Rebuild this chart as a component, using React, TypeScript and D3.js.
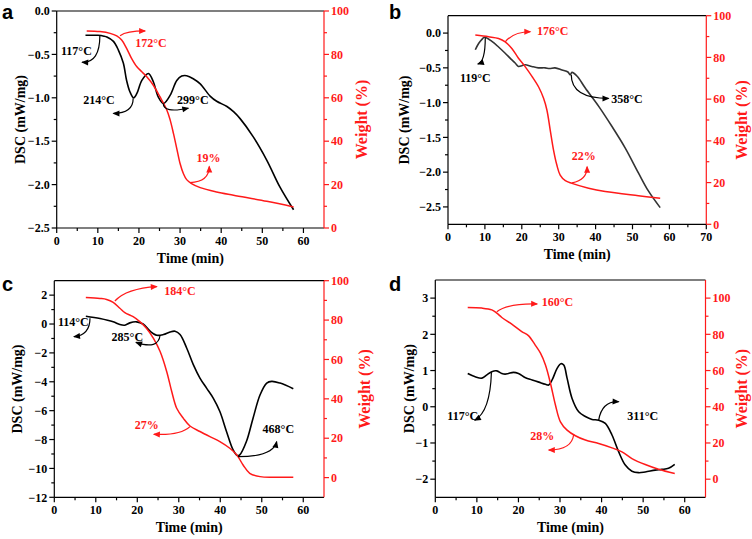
import React from 'react';
import * as d3 from 'd3';

type Pt = [number, number];
type Ann = { axis: 'L' | 'R'; color: 'k' | 'r'; p0: Pt; c: Pt; p1: Pt; text: string; at: Pt };

// ---------------- data (time in min, DSC in mW/mg, weight in %) ----------------
const dscA: Pt[] = [[7, -0.28], [10, -0.28], [11.5, -0.29], [12.2, -0.3], [13.8, -0.35], [15, -0.45], [16.2, -0.6], [17, -0.8], [17.8, -0.93], [18.7, -1.0], [19.5, -0.95], [20.7, -0.8], [22.3, -0.72], [23.5, -0.815], [24.7, -0.99], [26, -1.065], [27.6, -0.97], [29.2, -0.8], [30.4, -0.75], [31.6, -0.746], [33.2, -0.78], [34.9, -0.84], [37.3, -0.98], [38.9, -1.04], [41.4, -1.1], [43, -1.16], [44.6, -1.24], [47.8, -1.45], [51.1, -1.72], [54.3, -2.03], [57.6, -2.29]];
const wtA: Pt[] = [[7.3, 90.8], [10.5, 90.5], [13, 89.7], [14.6, 88.5], [15.8, 86.6], [17, 82.8], [18.2, 78.2], [19.5, 74.3], [20.7, 72], [21.9, 69.7], [23.5, 65.8], [25.1, 60.5], [26.8, 54.3], [27.6, 49.7], [28.4, 43.5], [29.2, 36.6], [30, 29.7], [30.8, 25.1], [31.6, 22.3], [32.8, 20.5], [34.9, 18.6], [38.9, 16.6], [43, 15.1], [51.1, 12.3], [57.6, 9.7]];

const dscB: Pt[] = [[7.4, -0.24], [8.3, -0.15], [9.2, -0.09], [9.9, -0.06], [11.9, -0.12], [13.7, -0.2], [15.5, -0.29], [17, -0.37], [18.2, -0.43], [19.1, -0.48], [20, -0.47], [20.9, -0.455], [22.7, -0.48], [24.5, -0.5], [26.3, -0.5], [27.5, -0.51], [29, -0.5], [30.9, -0.53], [32.5, -0.56], [33.1, -0.6], [33.6, -0.565], [35, -0.62], [37.2, -0.79], [40.8, -1.05], [44.4, -1.34], [48, -1.65], [51.6, -2.01], [54.3, -2.27], [57.5, -2.51]];
const wtB: Pt[] = [[7.4, 90.7], [11, 89.9], [13.7, 89.1], [15.5, 87.5], [17.3, 84.3], [19.1, 79.6], [20.9, 75.6], [22.8, 70.8], [24.6, 65.7], [25.9, 60.4], [26.8, 54.8], [27.7, 45.2], [28.6, 35.6], [29.5, 28.4], [30.4, 23.6], [31.8, 20.9], [33.6, 19.6], [38.1, 17.3], [42.6, 15.7], [51.6, 13.7], [57.5, 12.5]];

const dscC: Pt[] = [[7.6, 0.54], [11, 0.38], [14.2, 0.15], [15.8, -0.04], [17, -0.08], [18.2, 0.08], [19.8, 0.15], [21.4, 0.0], [23.1, -0.5], [24.7, -0.78], [26.3, -0.73], [27.9, -0.55], [29.1, -0.5], [30.3, -0.73], [31.9, -1.66], [33.5, -2.81], [35.1, -3.74], [36.7, -4.44], [38.3, -5.13], [39.9, -6.06], [41.5, -7.44], [43.1, -8.72], [44.1, -9.11], [44.7, -9.06], [46.3, -8.14], [47.9, -6.52], [49.6, -4.9], [51.2, -4.09], [52.4, -3.97], [54.4, -4.09], [57.6, -4.48]];
const wtC: Pt[] = [[7.6, 91.5], [11, 91], [12.6, 90.5], [14.2, 89], [15.8, 86], [17, 83.8], [19, 81.7], [20.6, 79.2], [22.2, 75.8], [23.9, 70.7], [25.5, 64], [27.1, 53.8], [28.3, 43.7], [29.5, 35.2], [31.1, 30.1], [32.7, 26.2], [35.1, 23.4], [37.5, 20.8], [39.9, 18.3], [42.3, 14.9], [44, 11.5], [45.5, 6.4], [47.1, 2.2], [49.6, 0.5], [52.8, 0.2], [57.6, 0.2]];

const dscD: Pt[] = [[7.8, 0.92], [9.6, 0.83], [11.2, 0.79], [12.4, 0.88], [13.6, 0.97], [14.8, 0.99], [16, 0.92], [16.8, 0.9], [17.6, 0.92], [18.8, 0.95], [20, 0.92], [21.7, 0.8], [23.3, 0.74], [24.9, 0.68], [26.5, 0.62], [27.3, 0.6], [28.1, 0.74], [29.3, 1.06], [30.2, 1.19], [30.9, 1.15], [31.7, 0.79], [32.9, 0.23], [34.5, -0.14], [36.1, -0.27], [37.7, -0.35], [39.3, -0.37], [40.9, -0.46], [42.5, -0.78], [44.1, -1.24], [45.7, -1.61], [47.3, -1.78], [48.9, -1.82], [50.5, -1.8], [52.9, -1.75], [54.5, -1.73], [56.1, -1.7], [57.6, -1.59]];
const wtD: Pt[] = [[7.8, 94.8], [11.2, 94.5], [13.6, 93.5], [14.8, 91.7], [16, 89.3], [18.4, 85.6], [20.8, 81.5], [22.4, 79.3], [24, 74.2], [25.3, 69.6], [26.5, 63.1], [27.7, 53], [28.9, 41], [30.1, 31.7], [31.7, 27.1], [33.7, 24], [36.1, 21.6], [39.3, 19.7], [42.5, 17.3], [44.9, 15.1], [47.3, 11.4], [50.5, 8.1], [53.7, 5.5], [57.6, 3.1]];

// annotations: curved arrow (start, control, end) and label position, in data units
const annA: Ann[] = [
  { axis: 'L', color: 'k', p0: [10.5, -0.28], c: [10.5, -0.6], p1: [6.2, -0.59], text: '117°C', at: [4.8, -0.507] },
  { axis: 'R', color: 'r', p0: [15.4, 88.6], c: [17, 90.8], p1: [21.5, 90.8], text: '172°C', at: [22.9, 83.6] },
  { axis: 'L', color: 'k', p0: [18.6, -1.006], c: [18.6, -1.18], p1: [13.8, -1.18], text: '214°C', at: [10.3, -1.066] },
  { axis: 'L', color: 'k', p0: [25.9, -1.063], c: [25.9, -1.18], p1: [32, -1.12], text: '299°C', at: [33.1, -1.066] },
  { axis: 'R', color: 'r', p0: [32.4, 20.9], c: [37.1, 21.3], p1: [37.1, 28.3], text: '19%', at: [36.9, 30.4] },
];
const annB: Ann[] = [
  { axis: 'L', color: 'k', p0: [10.1, -0.066], c: [10.1, -0.41], p1: [8.1, -0.445], text: '119°C', at: [7.4, -0.7] },
  { axis: 'R', color: 'r', p0: [15.5, 87.5], c: [17.8, 92.3], p1: [22.3, 92.3], text: '176°C', at: [28.4, 90.7] },
  { axis: 'L', color: 'k', p0: [33.4, -0.6], c: [33.4, -0.94], p1: [43.5, -0.94], text: '358°C', at: [48.5, -1.01] },
  { axis: 'R', color: 'r', p0: [33.6, 19.9], c: [37.7, 21.2], p1: [37.7, 27.6], text: '22%', at: [36.8, 31.0] },
];
const annC: Ann[] = [
  { axis: 'L', color: 'k', p0: [8.6, 0.4], c: [8.6, -0.76], p1: [4.75, -0.88], text: '114°C', at: [4.6, -0.17] },
  { axis: 'R', color: 'r', p0: [14.6, 89.7], c: [17.4, 96.1], p1: [24.7, 97], text: '184°C', at: [30.3, 92.5] },
  { axis: 'L', color: 'k', p0: [25.5, -0.76], c: [25.1, -1.8], p1: [19.7, -1.27], text: '285°C', at: [17.6, -1.18] },
  { axis: 'R', color: 'r', p0: [32.7, 25.9], c: [30.3, 21.3], p1: [24.0, 22.0], text: '27%', at: [22.3, 24.9] },
  { axis: 'L', color: 'k', p0: [44.3, -9.19], c: [52.8, -9.19], p1: [53.6, -8.15], text: '468°C', at: [54, -7.58] },
];
const annD: Ann[] = [
  { axis: 'L', color: 'k', p0: [13.5, 0.95], c: [13.2, -0.14], p1: [9.5, -0.37], text: '117°C', at: [6.6, -0.37] },
  { axis: 'R', color: 'r', p0: [14.8, 92.5], c: [17.3, 97.1], p1: [24.5, 96.75], text: '160°C', at: [29.4, 95.6] },
  { axis: 'L', color: 'k', p0: [39.3, -0.37], c: [40.1, 0.16], p1: [44.1, 0.14], text: '311°C', at: [49.9, -0.37] },
  { axis: 'R', color: 'r', p0: [33.3, 24.8], c: [32.9, 16.1], p1: [27.3, 16.1], text: '28%', at: [25.7, 21.7] },
];

// ticks
const xTicks60 = [0, 10, 20, 30, 40, 50, 60];
const xMinor60 = [5, 15, 25, 35, 45, 55];
const xTicks70 = [0, 10, 20, 30, 40, 50, 60, 70];
const xMinor70 = [5, 15, 25, 35, 45, 55, 65];
const dscTicksAB = [0, -0.5, -1, -1.5, -2, -2.5];
const dscMinorAB = [-0.25, -0.75, -1.25, -1.75, -2.25];
const dscTicksC = [2, 0, -2, -4, -6, -8, -10, -12];
const dscMinorC = [1, -1, -3, -5, -7, -9, -11];
const dscTicksD = [3, 2, 1, 0, -1, -2];
const dscMinorD = [2.5, 1.5, 0.5, -0.5, -1.5];
const wtTicks = [0, 20, 40, 60, 80, 100];
const wtMinor = [10, 30, 50, 70, 90];

// ---------------- layout / style ----------------
const SERIF = '"Liberation Serif", "Times New Roman", serif';
const SANS = '"Liberation Sans", Arial, sans-serif';
const RED = '#ff1a1a';

interface Cfg {
  letter: string; box: { l: number; r: number; t: number; b: number };
  xDom: [number, number]; yLDom: [number, number]; yRDom: [number, number];
  xT: number[]; xM: number[]; lT: number[]; lM: number[]; lFmt: (v: number) => string;
  dsc: Pt[]; wt: Pt[]; ann: Ann[]; dscColor: string;
  dscTitleX: number; wtTitleX: number; letterPos: [number, number];
}

const f1 = d3.format('.1f');
const f0 = d3.format('d');

const panels: Cfg[] = [
  { letter: 'a', box: { l: 56.7, r: 324, t: 11, b: 228 }, xDom: [0, 65], yLDom: [-2.5, 0], yRDom: [0, 100], xT: xTicks60, xM: xMinor60, lT: dscTicksAB, lM: dscMinorAB, lFmt: f1, dsc: dscA, wt: wtA, ann: annA, dscColor: '#000', dscTitleX: 20, wtTitleX: 361, letterPos: [2, 19] },
  { letter: 'b', box: { l: 448, r: 706.3, t: 15.7, b: 224.3 }, xDom: [0, 70], yLDom: [-2.75, 0.25], yRDom: [0, 100], xT: xTicks70, xM: xMinor70, lT: dscTicksAB, lM: dscMinorAB, lFmt: f1, dsc: dscB, wt: wtB, ann: annB, dscColor: '#333', dscTitleX: 404, wtTitleX: 741, letterPos: [389, 19] },
  { letter: 'c', box: { l: 54.3, r: 324, t: 280.7, b: 497.3 }, xDom: [0, 65], yLDom: [-12, 3], yRDom: [-10, 100], xT: xTicks60, xM: xMinor60, lT: dscTicksC, lM: dscMinorC, lFmt: f0, dsc: dscC, wt: wtC, ann: annC, dscColor: '#000', dscTitleX: 17.5, wtTitleX: 364, letterPos: [2, 291] },
  { letter: 'd', box: { l: 435.3, r: 705.5, t: 280, b: 497.3 }, xDom: [0, 65], yLDom: [-2.5, 3.5], yRDom: [-10, 110], xT: xTicks60, xM: xMinor60, lT: dscTicksD, lM: dscMinorD, lFmt: f0, dsc: dscD, wt: wtD, ann: annD, dscColor: '#000', dscTitleX: 409.5, wtTitleX: 741, letterPos: [389, 291] },
];

function Panel({ cfg }: { cfg: Cfg }) {
  const { box } = cfg;
  const x = d3.scaleLinear().domain(cfg.xDom).range([box.l, box.r]);
  const yL = d3.scaleLinear().domain(cfg.yLDom).range([box.b, box.t]);
  const yR = d3.scaleLinear().domain(cfg.yRDom).range([box.b, box.t]);
  const curve = d3.curveCatmullRom.alpha(0.5);
  const lineL = d3.line<Pt>().x(d => x(d[0])).y(d => yL(d[1])).curve(curve);
  const lineR = d3.line<Pt>().x(d => x(d[0])).y(d => yR(d[1])).curve(curve);
  const MAJ = 5, MIN = 3;
  const cx = (box.l + box.r) / 2;
  const cy = (box.t + box.b) / 2;

  return (
    <g>
      <text x={cfg.letterPos[0]} y={cfg.letterPos[1]} fontFamily={SANS} fontWeight="bold" fontSize={20}>{cfg.letter}</text>
      {/* curves */}
      <path d={lineL(cfg.dsc) || ''} fill="none" stroke={cfg.dscColor} strokeWidth={1.6} />
      <path d={lineR(cfg.wt) || ''} fill="none" stroke={RED} strokeWidth={1.5} />
      {/* annotations */}
      {cfg.ann.map((a, i) => {
        const sy = a.axis === 'L' ? yL : yR;
        const col = a.color === 'k' ? '#000' : RED;
        const x0 = x(a.p0[0]), y0 = sy(a.p0[1]);
        const qx = x(a.c[0]), qy = sy(a.c[1]);
        const x1 = x(a.p1[0]), y1 = sy(a.p1[1]);
        let dx = x1 - qx, dy = y1 - qy;
        const len = Math.hypot(dx, dy) || 1;
        dx /= len; dy /= len;
        const hl = 6, hw = 3;
        const bx = x1 - dx * hl, by = y1 - dy * hl;
        const head = `M${x1 + dx},${y1 + dy}L${bx - dy * hw},${by + dx * hw}L${bx + dy * hw},${by - dx * hw}Z`;
        return (
          <g key={i}>
            <path d={`M${x0},${y0}Q${qx},${qy} ${x1},${y1}`} fill="none" stroke={col} strokeWidth={1.2} />
            <path d={head} fill={col} stroke="none" />
            <text x={x(a.at[0])} y={sy(a.at[1])} textAnchor="middle" fontFamily={SERIF} fontWeight="bold" fontSize={12} fill={col}>{a.text}</text>
          </g>
        );
      })}
      {/* frame */}
      <line x1={box.l} x2={box.r} y1={box.t} y2={box.t} stroke="#000" strokeWidth={1.2} />
      <line x1={box.l} x2={box.r} y1={box.b} y2={box.b} stroke="#000" strokeWidth={1.2} />
      <line x1={box.l} x2={box.l} y1={box.t} y2={box.b} stroke="#000" strokeWidth={1.2} />
      <line x1={box.r} x2={box.r} y1={box.t} y2={box.b} stroke={RED} strokeWidth={1.2} />
      {/* x axis */}
      {cfg.xT.map(t => (
        <g key={'xt' + t}>
          <line x1={x(t)} x2={x(t)} y1={box.b} y2={box.b + MAJ} stroke="#000" strokeWidth={1.2} />
          <text x={x(t)} y={box.b + 17} textAnchor="middle" fontFamily={SERIF} fontWeight="bold" fontSize={12}>{f0(t)}</text>
        </g>
      ))}
      {cfg.xM.map(t => <line key={'xm' + t} x1={x(t)} x2={x(t)} y1={box.b} y2={box.b + MIN} stroke="#000" strokeWidth={1.2} />)}
      <text x={cx} y={box.b + 35} textAnchor="middle" fontFamily={SERIF} fontWeight="bold" fontSize={14}>Time (min)</text>
      {/* left axis */}
      {cfg.lT.map(v => (
        <g key={'lt' + v}>
          <line x1={box.l - MAJ} x2={box.l} y1={yL(v)} y2={yL(v)} stroke="#000" strokeWidth={1.2} />
          <text x={box.l - 7} y={yL(v)} dy="0.35em" textAnchor="end" fontFamily={SERIF} fontWeight="bold" fontSize={12}>{cfg.lFmt(v)}</text>
        </g>
      ))}
      {cfg.lM.map(v => <line key={'lm' + v} x1={box.l - MIN} x2={box.l} y1={yL(v)} y2={yL(v)} stroke="#000" strokeWidth={1.2} />)}
      <text transform={`translate(${cfg.dscTitleX},${cy}) rotate(-90)`} dy="0.35em" textAnchor="middle" fontFamily={SERIF} fontWeight="bold" fontSize={14}>DSC (mW/mg)</text>
      {/* right axis */}
      {wtTicks.map(v => (
        <g key={'rt' + v}>
          <line x1={box.r} x2={box.r + MAJ} y1={yR(v)} y2={yR(v)} stroke={RED} strokeWidth={1.2} />
          <text x={box.r + 7} y={yR(v)} dy="0.35em" textAnchor="start" fontFamily={SERIF} fontWeight="bold" fontSize={12} fill={RED}>{f0(v)}</text>
        </g>
      ))}
      {wtMinor.map(v => <line key={'rm' + v} x1={box.r} x2={box.r + MIN} y1={yR(v)} y2={yR(v)} stroke={RED} strokeWidth={1.2} />)}
      <text transform={`translate(${cfg.wtTitleX},${cy}) rotate(-90)`} dy="0.35em" textAnchor="middle" fontFamily={SERIF} fontWeight="bold" fontSize={16} fill={RED}>Weight (%)</text>
    </g>
  );
}

export default function App() {
  return (
    <svg width={752} height={539} style={{ position: 'absolute', left: 0, top: 0, background: '#fff' }}>
      <rect width={752} height={539} fill="#fff" />
      {panels.map(p => <Panel key={p.letter} cfg={p} />)}
    </svg>
  );
}
